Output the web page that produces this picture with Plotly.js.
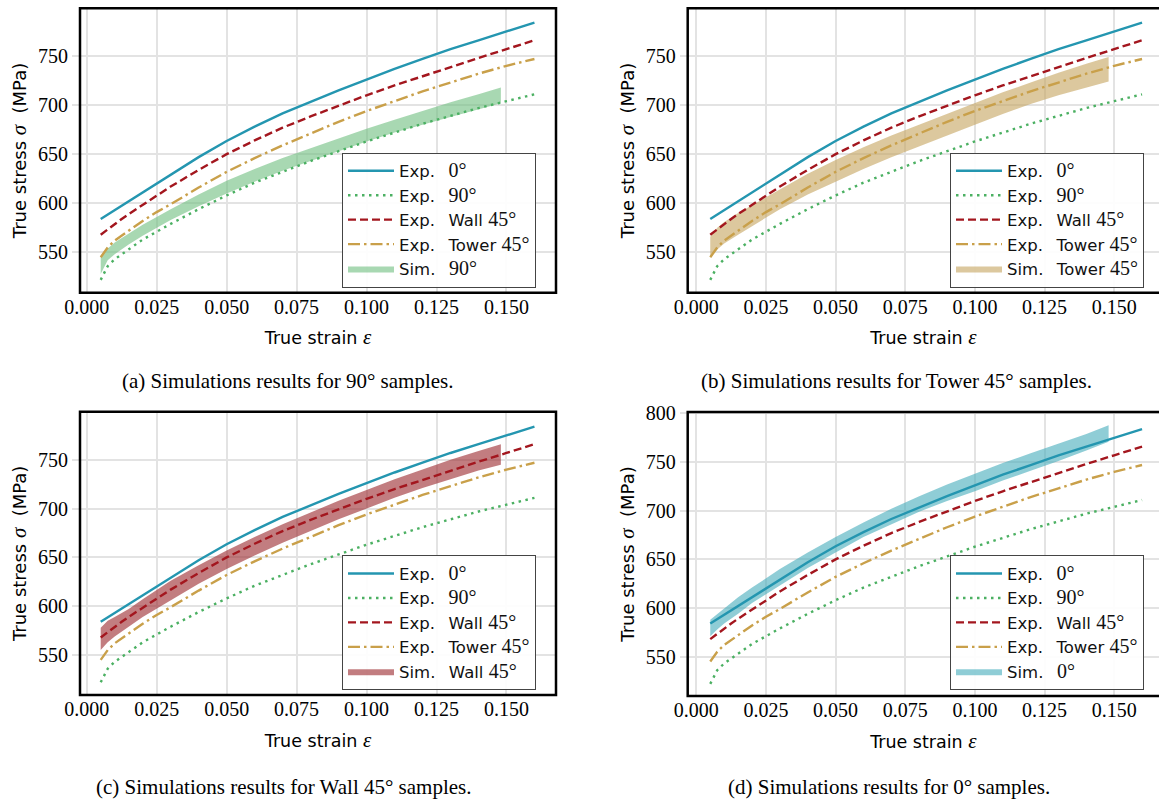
<!DOCTYPE html>
<html>
<head>
<meta charset="utf-8">
<script src="https://cdn.plot.ly/plotly-3.0.1.min.js"></script>
<style>html,body{margin:0;padding:0;background:#fff;}#chart{width:1159px;height:801px;}</style>
</head>
<body>
<div id="chart"></div>
<script>
// ---- data ----
const strain = [0.005, 0.0075, 0.01, 0.0125, 0.015, 0.02, 0.025, 0.03, 0.04, 0.05, 0.06, 0.07, 0.08, 0.09, 0.10, 0.11, 0.12, 0.13, 0.14, 0.15, 0.16];
const exp0     = [584, 588.5, 593, 597.5, 602, 611, 620.5, 629.5, 647, 663.5, 678, 691.5, 703.5, 715, 726, 737, 747, 757, 766, 775, 784];
const exp90    = [522, 536, 543, 548, 553, 563, 571, 579, 594, 608, 621, 632, 643, 653, 663, 672, 681, 689, 697, 704, 711];
const expWall  = [568, 573.5, 579, 584, 589, 598.5, 608, 617, 634, 650, 664, 677, 688.5, 699.5, 710, 720, 729.5, 739, 748, 757, 766];
const expTower = [545, 555, 562, 567, 572, 582, 591, 599, 616, 632, 646, 659, 671, 683, 694, 704, 714, 723, 732, 740, 747];

const simStrain = [0.005, 0.0075, 0.01, 0.015, 0.02, 0.03, 0.04, 0.05, 0.06, 0.07, 0.08, 0.09, 0.10, 0.11, 0.12, 0.13, 0.14, 0.148];
const sim90Upper    = [545, 554, 560, 569, 578, 594, 609, 623, 635, 646, 656, 666, 676, 685, 694, 703, 711, 718];
const sim90Lower    = [528, 542, 548, 558, 567, 583, 597, 610, 622, 633, 643, 653, 663, 672, 680, 688, 696, 702];
const simTowerUpper = [566, 575, 581, 590, 598, 614, 630, 644, 657, 669, 680, 691, 702, 713, 723, 733, 742, 749];
const simTowerLower = [545, 553, 559, 568, 577, 594, 609, 622, 635, 647, 658, 669, 680, 691, 701, 710, 718, 724];
const simWallUpper  = [578, 585, 589, 597, 607, 626, 642, 657, 671, 684, 696, 708, 719, 730, 740, 750, 759, 766];
const simWallLower  = [555, 563, 569, 579, 589, 606, 623, 638, 652, 665, 677, 689, 700, 711, 721, 730, 739, 745];
const sim0Upper     = [588, 594, 600, 611, 621, 640, 657, 673, 688, 702, 715, 727, 738, 749, 759, 769, 779, 788];
const sim0Lower     = [571, 578, 584, 594, 605, 623, 641, 657, 673, 686, 699, 710, 720, 731, 741, 751, 762, 771];

const xTickVals = [0, 0.025, 0.05, 0.075, 0.1, 0.125, 0.15];
const xTickText = ['0.000', '0.025', '0.050', '0.075', '0.100', '0.125', '0.150'];

const captions = [
  '(a) Simulations results for 90° samples.',
  '(b) Simulations results for Tower 45° samples.',
  '(c) Simulations results for Wall 45° samples.',
  '(d) Simulations results for 0° samples.'
];

// ---- styling ----
const W = 1159, H = 801;
const SANS = '"DejaVu Sans", sans-serif';
const SERIF = '"Liberation Serif", "Times New Roman", serif';
const num = s => '<span style="font-family:Liberation Serif;font-size:20px">' + s + '</span>';
const GAP = '\u2002\u00a0';

const lineDefs = [
  {name: 'Exp.' + GAP + num('0°'), y: exp0, color: '#2496b0', dash: 'solid'},
  {name: 'Exp.' + GAP + num('90°'), y: exp90, color: '#4bb062', dash: '2.5px,4.5px'},
  {name: 'Exp.' + GAP + 'Wall ' + num('45°'), y: expWall, color: '#a3161e', dash: '8px,4px'},
  {name: 'Exp.' + GAP + 'Tower ' + num('45°'), y: expTower, color: '#c9a04a', dash: '12px,4px,2.5px,4px'}
];

const sims = [
  {name: 'Sim.' + GAP + num('90°'), up: sim90Upper, lo: sim90Lower, fill: 'rgba(110,190,127,0.6)'},
  {name: 'Sim.' + GAP + 'Tower ' + num('45°'), up: simTowerUpper, lo: simTowerLower, fill: 'rgba(197,163,93,0.6)'},
  {name: 'Sim.' + GAP + 'Wall ' + num('45°'), up: simWallUpper, lo: simWallLower, fill: 'rgba(153,38,43,0.6)'},
  {name: 'Sim.' + GAP + num('0°'), up: sim0Upper, lo: sim0Lower, fill: 'rgba(68,172,187,0.6)'}
];

const traces = [];
for (let i = 0; i < 4; i++) {
  const s = i === 0 ? '' : String(i + 1);
  const sim = sims[i];
  traces.push({
    x: simStrain.concat(simStrain.slice().reverse()),
    y: sim.up.concat(sim.lo.slice().reverse()),
    type: 'scatter', mode: 'lines', fill: 'toself', fillcolor: sim.fill,
    line: {width: 0, color: sim.fill}, name: sim.name,
    xaxis: 'x' + s, yaxis: 'y' + s, legend: 'legend' + s, legendrank: 5, hoverinfo: 'skip'
  });
  lineDefs.forEach((d, k) => {
    traces.push({
      x: strain, y: d.y, type: 'scatter', mode: 'lines', name: d.name,
      line: {color: d.color, width: 2.4, dash: d.dash},
      xaxis: 'x' + s, yaxis: 'y' + s, legend: 'legend' + s, legendrank: k + 1
    });
  });
}

// plot areas in pixels
const boxes = [
  {x0: 80, x1: 556, y0: 8.3, y1: 292.7, xr: [-0.0024, 0.1677], yr: [508.9, 798.6]},
  {x0: 687.7, x1: 1163.5, y0: 8.3, y1: 292.7, xr: [-0.0031, 0.1677], yr: [508.9, 798.6]},
  {x0: 80, x1: 556, y0: 411.7, y1: 695, xr: [-0.0024, 0.1677], yr: [509, 799.3]},
  {x0: 687.7, x1: 1163.5, y0: 412, y1: 696, xr: [-0.0031, 0.1677], yr: [509.5, 801.5]}
];
const legendPos = [[342, 152.5], [950, 152.5], [342, 555.3], [950, 555.3]];
const captionPos = [[288, 381], [896, 381], [284, 787], [889, 787]];

const layout = {
  width: W, height: H,
  margin: {l: 0, r: 0, t: 0, b: 0},
  paper_bgcolor: '#fff', plot_bgcolor: '#fff',
  font: {family: SERIF, size: 20, color: '#000'},
  showlegend: true,
  shapes: [], annotations: []
};

boxes.forEach((b, i) => {
  const s = i === 0 ? '' : String(i + 1);
  const xRight = Math.min(b.x1, W);
  // keep the same scale when the right edge is cut by the page border
  const xr1 = b.xr[0] + (b.xr[1] - b.xr[0]) * (xRight - b.x0) / (b.x1 - b.x0);
  layout['xaxis' + s] = {
    domain: [b.x0 / W, xRight / W], range: [b.xr[0], xr1], anchor: 'y' + s,
    tickvals: xTickVals, ticktext: xTickText, ticks: '',
    showgrid: true, gridcolor: '#e3e3e3', gridwidth: 2, zeroline: false, showline: false,
    tickfont: {family: SERIF, size: 20, color: '#000'},
    title: {text: 'True strain <span style="font-family:Liberation Serif;font-size:21px"><i>ε</i></span>', font: {family: SANS, size: 17.5, color: '#000'}, standoff: 15}
  };
  layout['yaxis' + s] = {
    domain: [1 - b.y1 / H, 1 - b.y0 / H], range: b.yr, anchor: 'x' + s,
    dtick: 50, tick0: 0, ticks: 'outside', ticklen: 7, tickwidth: 2, tickcolor: '#e3e3e3',
    showgrid: true, gridcolor: '#e3e3e3', gridwidth: 2, zeroline: false, showline: false,
    tickfont: {family: SERIF, size: 20, color: '#000'},
    title: {text: 'True stress <span style="font-family:Liberation Serif;font-size:21px"><i>σ</i></span>\u00a0 (MPa)', font: {family: SANS, size: 18, color: '#000'}, standoff: 6}
  };
  layout.shapes.push({
    type: 'rect', xref: 'x' + s + ' domain', yref: 'y' + s + ' domain',
    x0: 0, x1: (b.x1 - b.x0) / (xRight - b.x0), y0: 0, y1: 1,
    line: {color: '#000', width: 2.5}, fillcolor: 'rgba(0,0,0,0)', layer: 'above'
  });
  layout['legend' + s] = {
    x: legendPos[i][0] / W, y: 1 - legendPos[i][1] / H, xanchor: 'left', yanchor: 'top',
    xref: 'paper', yref: 'paper',
    bgcolor: 'rgba(255,255,255,0.9)', bordercolor: '#444', borderwidth: 1,
    font: {family: SANS, size: 16.5, color: '#111'}, traceorder: 'normal', itemwidth: 46
  };
  layout.annotations.push({
    text: captions[i], xref: 'paper', yref: 'paper',
    x: captionPos[i][0] / W, y: 1 - captionPos[i][1] / H, xanchor: 'center', yanchor: 'middle',
    showarrow: false, font: {family: SERIF, size: 21, color: '#000'}
  });
});

Plotly.newPlot('chart', traces, layout, {displayModeBar: false, staticPlot: true});
</script>
</body>
</html>
